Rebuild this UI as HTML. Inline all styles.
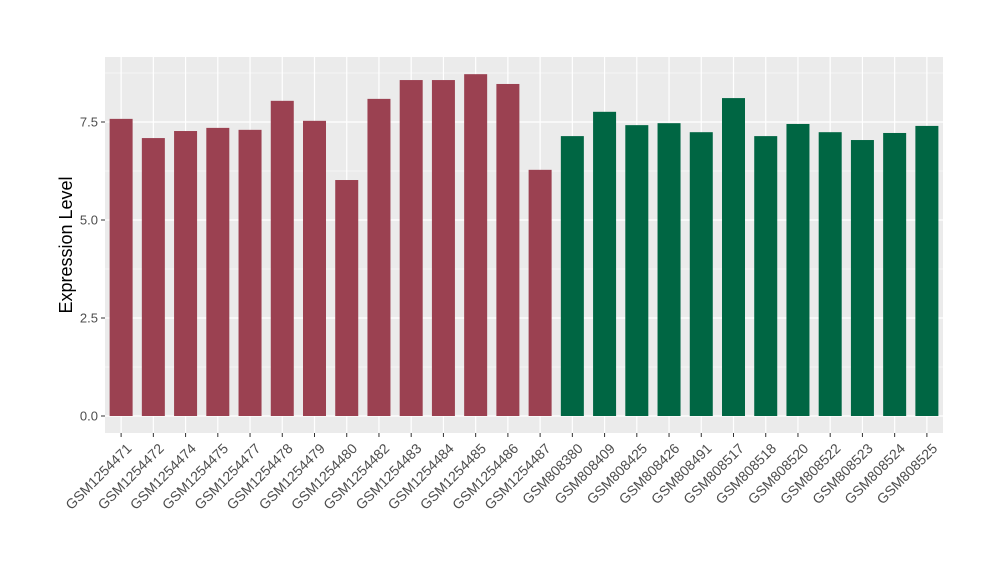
<!DOCTYPE html>
<html><head><meta charset="utf-8"><style>body{margin:0;background:#fff}svg{display:block;font-family:"Liberation Sans",sans-serif}</style></head>
<body>
<svg id="chart" width="1000" height="580" xmlns="http://www.w3.org/2000/svg"></svg>
<script>
const categories=["GSM1254471","GSM1254472","GSM1254474","GSM1254475","GSM1254477","GSM1254478","GSM1254479","GSM1254480","GSM1254482","GSM1254483","GSM1254484","GSM1254485","GSM1254486","GSM1254487","GSM808380","GSM808409","GSM808425","GSM808426","GSM808491","GSM808517","GSM808518","GSM808520","GSM808522","GSM808523","GSM808524","GSM808525"];
const values=[7.58,7.09,7.27,7.35,7.30,8.04,7.53,6.02,8.09,8.57,8.57,8.72,8.47,6.28,7.14,7.76,7.42,7.47,7.24,8.11,7.14,7.45,7.24,7.04,7.22,7.40];
const groups=[0,0,0,0,0,0,0,0,0,0,0,0,0,0,1,1,1,1,1,1,1,1,1,1,1,1];
const yTicks=[0,2.5,5,7.5];
const yTickLabels=["0.0","2.5","5.0","7.5"];
const colors=["#9B4151","#006643"];
const svg=document.getElementById('chart');const NS="http://www.w3.org/2000/svg";
const L=105,R=943,T=57,B=433;
const y=v=>416-v*39.2;
const step=(R-L)/categories.length;const x=i=>L+step*(i+0.5);
function mk(t,a,p){const e=document.createElementNS(NS,t);for(const k in a)e.setAttribute(k,a[k]);(p||svg).appendChild(e);return e;}
const panel=mk('rect',{x:L,y:T,width:R-L,height:B-T,fill:'#EBEBEB'});


for(let k=0;k<yTicks.length;k++){const m=yTicks[k]+1.25;if(y(m)>T)mk('line',{x1:L,x2:R,y1:y(m),y2:y(m),stroke:'#fff','stroke-width':0.6});}
yTicks.forEach((v,k)=>{mk('line',{x1:L,x2:R,y1:y(v),y2:y(v),stroke:'#fff','stroke-width':1.2});
mk('line',{x1:L-4,x2:L,y1:y(v),y2:y(v),stroke:'#333','stroke-width':1});
const t=mk('text',{x:L-7,y:y(v)+4.5,'text-anchor':'end','font-size':13,fill:'#4D4D4D'});t.textContent=yTickLabels[k];

});
categories.forEach((c,i)=>{mk('line',{x1:x(i),x2:x(i),y1:T,y2:B,stroke:'#fff','stroke-width':1.2});});
categories.forEach((c,i)=>{const r=mk('rect',{x:x(i)-11.5,y:y(values[i]),width:23,height:y(0)-y(values[i]),fill:colors[groups[i]]});


mk('line',{x1:x(i),x2:x(i),y1:B,y2:B+4,stroke:'#333','stroke-width':1});
const t=mk('text',{x:x(i)+4,y:B+9,'text-anchor':'end','font-size':14,fill:'#4D4D4D',transform:`rotate(-45 ${x(i)+4} ${B+9})`,'dominant-baseline':'hanging'});t.textContent=c;

});
const yt=mk('text',{x:72,y:245,'text-anchor':'middle','font-size':18,fill:'#000',transform:'rotate(-90 72 245)'});yt.textContent='Expression Level';


</script>
</body></html>
